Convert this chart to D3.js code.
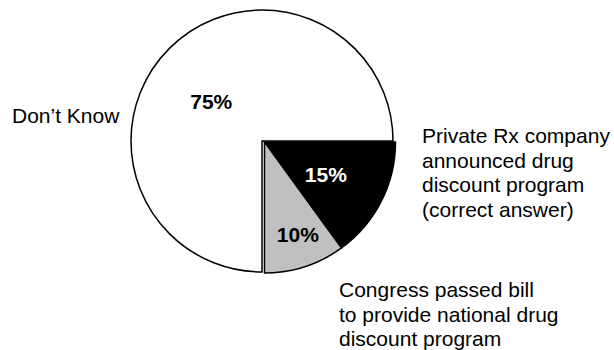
<!DOCTYPE html>
<html>
<head>
<meta charset="utf-8">
<script src="https://cdn.jsdelivr.net/npm/d3@7"></script>
<style>
  body { margin: 0; background: #fff; }
  text { font-family: "Liberation Sans", Arial, sans-serif; }
</style>
</head>
<body>
<div id="chart"></div>
<script>
// answers, in order clockwise from 3 o'clock
const categories = ["Private Rx company announced drug discount program (correct answer)",
                    "Congress passed bill to provide national drug discount program",
                    "Don\u2019t Know"];
const values = [15, 10, 75];
const percentLabels = ["15%", "10%", "75%"];
const labelLines = [
    ["Private Rx company", "announced drug", "discount program", "(correct answer)"],
    ["Congress passed bill", "to provide national drug", "discount program"],
    ["Don\u2019t Know"]
];

const fills = ["#000000", "#c0c0c0", "#ffffff"];
const pctColors = ["#ffffff", "#000000", "#000000"];

const width = 614, height = 350;
const cx = 262, cy = 141, radius = 131;
const explode = [[2.5, 1], [2.5, 1], [0, 0]];   // first two slices pulled out a bit
const pctRadius = [70, 98, 64];
const pctNudge = [[-1, 1], [3, -1], [-5.5, 5.5]];
const catPos = [[422, 143], [339, 297], [12, 123]];
const lineH = 24.5;

const svg = d3.select("#chart").append("svg")
    .attr("width", width)
    .attr("height", height);

const pie = d3.pie()
    .sort(null)
    .startAngle(Math.PI / 2)
    .endAngle(Math.PI / 2 + 2 * Math.PI)
    .value(d => d);

const arcs = pie(values);
const arc = d3.arc().innerRadius(0).outerRadius(radius);

// draw the big white slice first so the pulled ones sit on top
const order = [2, 0, 1];
const g = svg.append("g").attr("transform", `translate(${cx},${cy})`);

g.selectAll("path.slice")
    .data(order.map(i => ({ a: arcs[i], i })))
    .join("path")
    .attr("class", "slice")
    .attr("transform", d => `translate(${explode[d.i][0]},${explode[d.i][1]})`)
    .attr("d", d => arc(d.a))
    .attr("fill", d => fills[d.i])
    .attr("stroke", "#000")
    .attr("stroke-width", 1.5)
    .attr("stroke-linejoin", "miter");

// percent labels
g.selectAll("text.pct")
    .data(arcs)
    .join("text")
    .attr("class", "pct")
    .attr("transform", (d, i) => {
        const c = d3.arc().innerRadius(pctRadius[i]).outerRadius(pctRadius[i]).centroid(d);
        return `translate(${c[0] + explode[i][0] + pctNudge[i][0]},${c[1] + explode[i][1] + pctNudge[i][1]})`;
    })
    .attr("text-anchor", "middle")
    .attr("dy", "0.36em")
    .attr("font-size", 21)
    .attr("font-weight", "bold")
    .attr("fill", (d, i) => pctColors[i])
    .text((d, i) => percentLabels[i]);

// category labels
labelLines.forEach((lines, i) => {
    const t = svg.append("text")
        .attr("x", catPos[i][0])
        .attr("y", catPos[i][1])
        .attr("font-size", 21)
        .attr("fill", "#000");
    lines.forEach((line, k) => {
        t.append("tspan")
            .attr("x", catPos[i][0])
            .attr("y", catPos[i][1] + k * lineH)
            .text(line);
    });
});
</script>
</body>
</html>
